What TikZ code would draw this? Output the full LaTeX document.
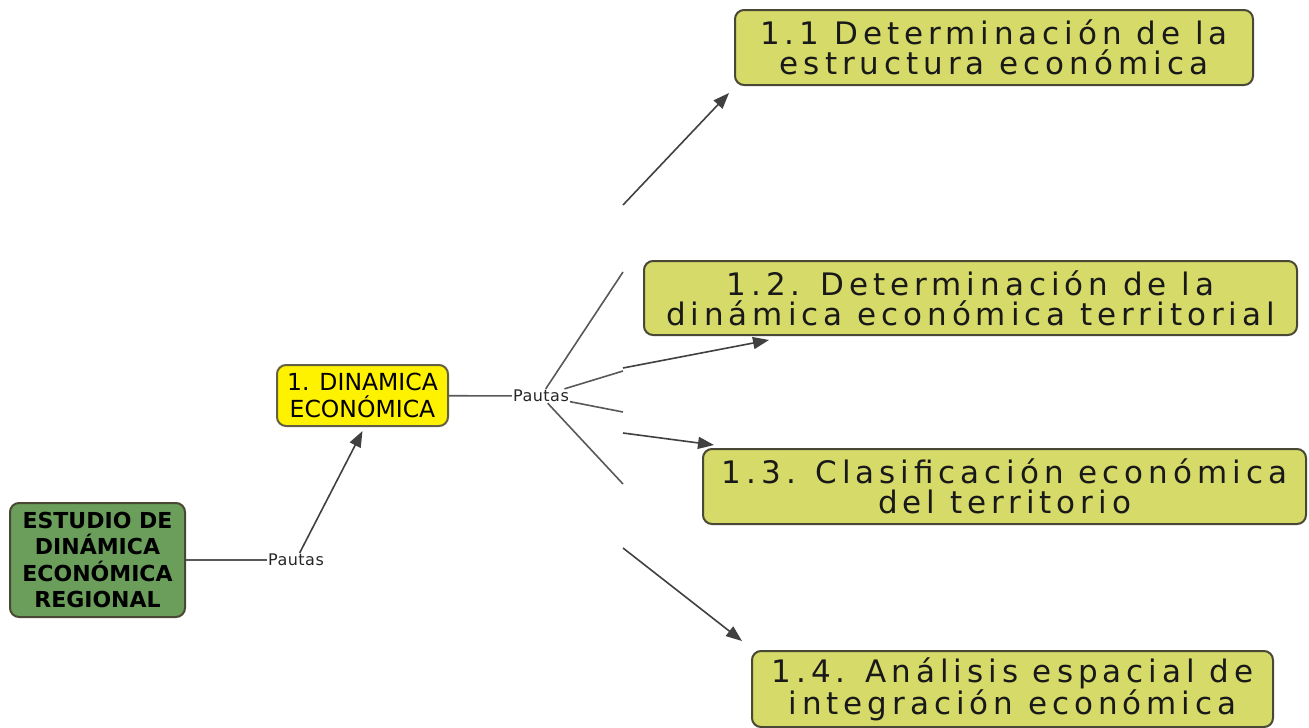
\documentclass[tikz,border=0pt]{standalone}
\usepackage{fontspec}
\usepackage{xcolor}
\usepackage{tikz}
\usetikzlibrary{arrows.meta}
\setmainfont{DejaVu Sans}
\newfontfamily\bigboxfont[LetterSpace=16]{DejaVu Sans}
\newfontfamily\smallboxfont{DejaVu Sans}
\newfontfamily\linkfont[LetterSpace=3]{DejaVu Sans}
\definecolor{khaki}{RGB}{214,218,104}
\definecolor{bordergray}{RGB}{72,72,52}
\definecolor{mossgreen}{RGB}{106,158,90}
\definecolor{linegray}{RGB}{88,88,88}

\begin{document}
\begin{tikzpicture}[x=1pt,y=-1pt,
    concept/.style={draw=bordergray, line width=2pt, rounded corners=9pt, align=center, inner sep=0pt},
    topic/.style={concept, fill=khaki, text=black!90, font=\bigboxfont\fontsize{31}{30}\selectfont},
    linkword/.style={inner sep=1pt, font=\linkfont\fontsize{16}{18}\selectfont, text=black!85},
    link/.style={draw=linegray, line width=1.6pt},
    arr/.style={link, -{Triangle[length=16pt,width=12pt]}, black!75}]
    \useasboundingbox (0,0) rectangle (1309,728);

    % Main concept
    \node[concept, fill=mossgreen, minimum width=175pt, minimum height=114pt,
          font=\smallboxfont\bfseries\fontsize{22}{26.5}\selectfont] (estudio) at (97.5,560)
          {ESTUDIO DE\\DINÁMICA\\ECONÓMICA\\REGIONAL};
    \node[concept, fill=yellow, draw=black!70!yellow, minimum width=171pt, minimum height=61pt,
          font=\smallboxfont\fontsize{23.5}{26.5}\selectfont] (dinamica) at (362.5,395.5)
          {1. DINAMICA\\ECONÓMICA};

    % Sub topics
    \node[topic, minimum width=518pt, minimum height=75pt] (t11) at (994,47.5)
          {1.1 Determinación de la\\estructura económica};
    \node[topic, minimum width=653pt, minimum height=74pt] (t12) at (970.5,298)
          {1.2. Determinación de la\\dinámica económica territorial};
    \node[topic, minimum width=603pt, minimum height=75pt] (t13) at (1004.5,486.5)
          {1.3. Clasificación económica\\del territorio};
    \node[topic, minimum width=521pt, minimum height=76pt] (t14) at (1012.5,689)
          {1.4. Análisis espacial de\\integración económica};

    % Linking words
    \node[linkword] (pauta1) at (296,560) {Pautas};
    \node[linkword] (pauta2) at (541,396) {Pautas};

    % Break points of the links
    \coordinate (b1) at (623,272);
    \coordinate (k1) at (623,205);
    \coordinate (b2) at (623,371);
    \coordinate (k2) at (623,368);
    \coordinate (b3) at (623,412);
    \coordinate (k3) at (623,433);
    \coordinate (b4) at (623,484);
    \coordinate (k4) at (623,548);

    % Connectors
    \draw[link] (estudio.east) -- (pauta1);
    \draw[arr] (pauta1) -- ([yshift=-4pt]dinamica.south);
    \draw[link] (dinamica) -- (pauta2);
    \draw[link] (pauta2) -- (b1);
    \draw[link] (pauta2) -- (b2);
    \draw[link] (pauta2) -- (b3);
    \draw[link] (pauta2) -- (b4);
    \draw[arr] (k1) -- ([xshift=-5pt,yshift=-7pt]t11.south west);
    \draw[arr] (k2) -- ([xshift=126pt,yshift=-4pt]t12.south west);
    \draw[arr] (k3) -- ([xshift=12pt,yshift=3pt]t13.north west);
    \draw[arr] (k4) -- ([xshift=-9pt,yshift=9pt]t14.north west);
\end{tikzpicture}
\end{document}
